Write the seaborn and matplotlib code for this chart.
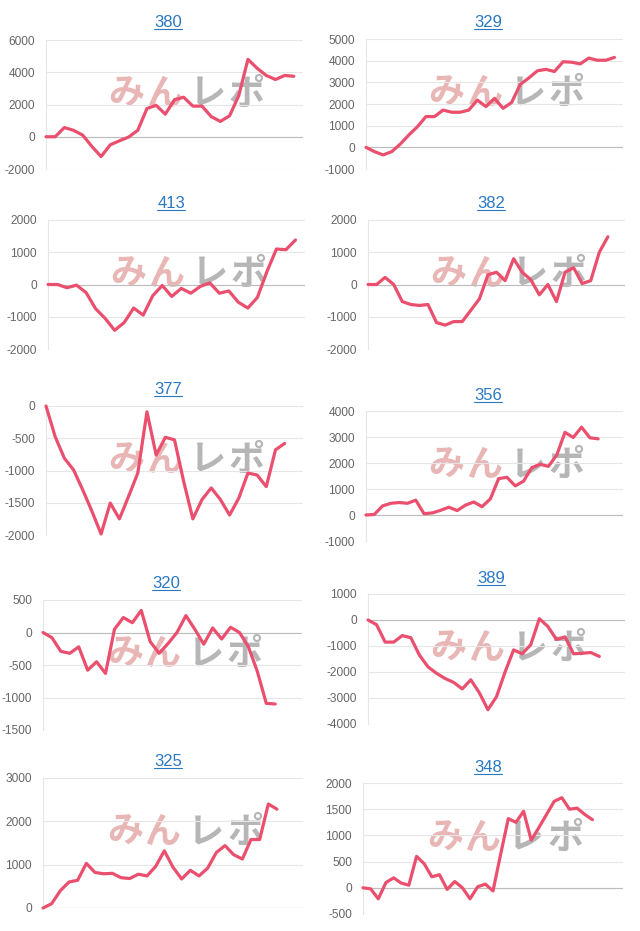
import matplotlib
matplotlib.use('Agg')
import matplotlib.pyplot as plt
from matplotlib.ticker import MultipleLocator, FuncFormatter
from matplotlib.lines import Line2D
import seaborn as sns

# machine numbers shown above each chart
titles = ['380', '329', '413', '382', '377', '356', '320', '389', '325', '348']

# daily cumulative difference
v380 = [0, 0, 570, 400, 100, -600, -1230, -500, -250, -20, 400, 1750, 1950, 1400,
        2300, 2450, 1900, 1900, 1250, 950, 1300, 2550, 4800, 4250, 3800, 3550, 3800, 3750]
v329 = [0, -200, -350, -200, 150, 570, 950, 1420, 1420, 1720, 1620, 1620, 1720, 2180,
        1880, 2260, 1800, 2070, 2900, 3200, 3530, 3600, 3500, 3950, 3930, 3850, 4120,
        4020, 4020, 4150]
v413 = [0, 0, -100, -20, -250, -750, -1050, -1420, -1180, -730, -950, -350, -30, -370,
        -120, -270, -60, 50, -270, -200, -550, -730, -400, 400, 1100, 1080, 1380]
v382 = [0, 0, 220, 0, -530, -620, -650, -620, -1180, -1260, -1150, -1150, -800, -450,
        300, 380, 120, 800, 380, 150, -320, 0, -530, 380, 520, 30, 120, 1000, 1480]
v377 = [0, -475, -810, -990, -1300, -1630, -1985, -1505, -1750, -1400, -1040, -90, -760,
        -485, -525, -1170, -1750, -1450, -1270, -1450, -1690, -1430, -1040, -1070, -1250,
        -680, -580]
v356 = [0, 20, 350, 450, 480, 450, 570, 50, 80, 180, 300, 170, 380, 500, 320, 620, 1400,
        1450, 1120, 1300, 1820, 1950, 1870, 2300, 3180, 2980, 3380, 2970, 2930]
v320 = [0, -80, -290, -320, -220, -580, -450, -630, 50, 230, 150, 340, -140, -320, -170,
        0, 260, 50, -180, 70, -100, 80, 0, -220, -600, -1090, -1100]
v389 = [0, -180, -850, -850, -600, -680, -1350, -1800, -2050, -2250, -2400, -2650, -2300,
        -2800, -3450, -2950, -2000, -1150, -1300, -950, 50, -250, -750, -650, -1300, -1280,
        -1250, -1400]
v325 = [0, 100, 400, 600, 640, 1030, 820, 790, 800, 700, 680, 780, 740, 960, 1320, 940,
        670, 870, 740, 920, 1280, 1440, 1230, 1130, 1580, 1580, 2400, 2280]
v348 = [0, -20, -210, 100, 190, 90, 50, 600, 460, 210, 250, -30, 120, 0, -210, 20, 70,
        -60, 640, 1320, 1250, 1460, 910, 1150, 1400, 1650, 1720, 1500, 1520, 1400, 1300]
series = [v380, v329, v413, v382, v377, v356, v320, v389, v325, v348]

# number of day slots on each x axis
n_days = [29, 31, 28, 31, 29, 32, 30, 31, 31, 35]

# y axis: min, max, tick step
y_axes = [(-2000, 6000, 2000), (-1000, 5000, 1000), (-2000, 2000, 1000),
          (-2000, 2000, 1000), (-2000, 0, 500), (-1000, 4000, 1000),
          (-1500, 500, 500), (-4000, 1000, 1000), (0, 3000, 1000), (-500, 2000, 500)]

# plot boxes in pixels (left, top, right, bottom) and title centres
boxes = [(46, 40, 303, 169), (366, 39, 623, 169), (48, 220, 305, 349), (368, 220, 625, 349),
         (46, 406, 303, 535), (366, 411, 623, 541), (43, 600, 302, 730), (368, 594, 625, 724),
         (43, 778, 303, 908), (363, 783, 623, 914)]
title_pos = [(168, 21), (488, 21), (171, 202), (491, 202), (168, 388), (488, 394),
             (166, 582), (491, 577), (168, 760), (488, 766)]

# watermark glyphs, colour and pixel offset from the centre of the plot
wm_glyphs = ['み', 'ん', 'レ', 'ポ']
wm_colors = ['#e9b6b6', '#e9b6b6', '#b6b6b6', '#b6b6b6']
wm_offsets = [-58, -21, 23, 62]

W, H = 640, 931
sns.set_style('white')
plt.rcParams['font.family'] = ['Liberation Sans', 'Noto Sans CJK JP', 'DejaVu Sans']

line_color = '#ea4f6e'
grid_color = '#e6e6e6'

fig = plt.figure(figsize=(W / 100, H / 100), dpi=100)

title_texts = []
for i, vals in enumerate(series):
    l, t, r, b = boxes[i]
    ax = fig.add_axes([l / W, 1 - b / H, (r - l) / W, (b - t) / H])
    ax.set_axisbelow(True)

    # watermark
    for g, c, off in zip(wm_glyphs, wm_colors, wm_offsets):
        ax.text(0.54 + off / (r - l), 0.58, g, transform=ax.transAxes, ha='center',
                va='center', fontsize=26, fontweight='bold', color=c,
                family='Noto Sans CJK JP', zorder=0.5)

    sns.lineplot(x=list(range(len(vals))), y=vals, ax=ax, color=line_color,
                 linewidth=2.3, estimator=None, zorder=3, clip_on=False)

    ymin, ymax, step = y_axes[i]
    ax.set_xlim(0, n_days[i] - 1)
    ax.set_ylim(ymin, ymax)
    ax.yaxis.set_major_locator(MultipleLocator(step))
    ax.yaxis.set_major_formatter(FuncFormatter(lambda v, p: f'{int(round(v))}'))
    ax.set_xticks([])
    ax.yaxis.grid(True, color=grid_color, linewidth=0.8)
    if ymin < 0 < ymax or ymin == 0:
        ax.axhline(0, color='#bdbdbd', linewidth=0.8, zorder=1)
    for s in ['top', 'right', 'bottom']:
        ax.spines[s].set_visible(False)
    ax.spines['left'].set_color(grid_color)
    ax.spines['left'].set_linewidth(0.8)
    ax.tick_params(axis='y', length=7, width=0.8, color=grid_color, pad=1,
                   labelsize=8.6, labelcolor='#666666')
    ax.set_xlabel('')
    ax.set_ylabel('')

    tx, ty = title_pos[i]
    tt = fig.text(tx / W, 1 - (ty + 6) / H, titles[i], ha='center', va='baseline',
                  fontsize=12, color='#2a78c2')
    title_texts.append(tt)

# underline the titles like links
fig.canvas.draw()
renderer = fig.canvas.get_renderer()
for i, tt in enumerate(title_texts):
    bb = tt.get_window_extent(renderer)
    ty = title_pos[i][1] + 8
    fig.add_artist(Line2D([bb.x0 / W, bb.x1 / W], [1 - ty / H, 1 - ty / H],
                          transform=fig.transFigure, color='#2a78c2', linewidth=0.8))

fig.savefig('out.png', dpi=100)
